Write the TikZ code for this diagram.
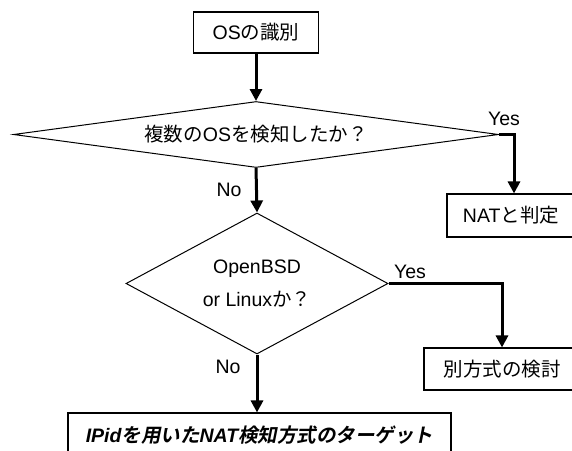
\documentclass[tikz,border=0pt]{standalone}
\usepackage{fontspec}
\setmainfont{Liberation Sans}
\newfontfamily\jp{Noto Sans CJK JP}
\newfontfamily\jpbi[FakeSlant=0.2]{Noto Sans CJK JP Bold}
\usetikzlibrary{shapes.geometric,arrows.meta}
\begin{document}
\begin{tikzpicture}[x=1pt,y=-1pt,
  every node/.style={font=\fontsize{19.5}{33}\selectfont},
  procbox/.style={draw,line width=1.1pt,rectangle,inner sep=0pt},
  decision/.style={draw,line width=1pt,diamond,inner sep=0pt,align=center},
  lbl/.style={anchor=base,inner sep=0pt},
  arr/.style={line width=3pt,-{Triangle[length=12pt,width=12pt]}},
  conn/.style={line width=3pt}]
\useasboundingbox (0,0) rectangle (572,450);
\clip (0,0) rectangle (572,450);
\fill[white] (0,0) rectangle (572,450);

\node[procbox,minimum width=125pt,minimum height=41pt] (os) at (256,32.5) {OS{\jp の識別}};
\node[decision,aspect=7.35,minimum width=485pt,minimum height=66pt] (d1) at (256,134.5) {{\jp 複数の}OS{\jp を検知したか？}};
\node[procbox,minimum width=128pt,minimum height=43pt] (nat) at (511,215.5) {NAT{\jp と判定}};
\node[decision,aspect=1.86,minimum width=262pt,minimum height=141pt] (d2) at (257,283.5) {OpenBSD\\or Linux{\jp か？}};
\node[procbox,minimum width=156pt,minimum height=42pt] (alt) at (502,369) {\jp 別方式の検討};
\node[procbox,minimum width=383pt,minimum height=44pt] (tgt) at (259.5,435) {{\bfseries\itshape IPid}{\jpbi を用いた}{\bfseries\itshape NAT}{\jpbi 検知方式のターゲット}};

\node[lbl] (yes1) at (504,125) {Yes};
\node[lbl] (no1) at (229,196) {No};
\node[lbl] (yes2) at (410,278) {Yes};
\node[lbl] (no2) at (228,373) {No};

\draw[arr] (os.south -| d1.north) -- (d1.north);
\draw[arr] (d1.east) -| ([xshift=3pt]nat.north);
\draw[arr] (d1.south) -- (d2.north);
\draw[arr] (d2.east) -| (alt.north);
\draw[arr] (d2.south) -- (d2.south |- tgt.north);
\end{tikzpicture}
\end{document}
